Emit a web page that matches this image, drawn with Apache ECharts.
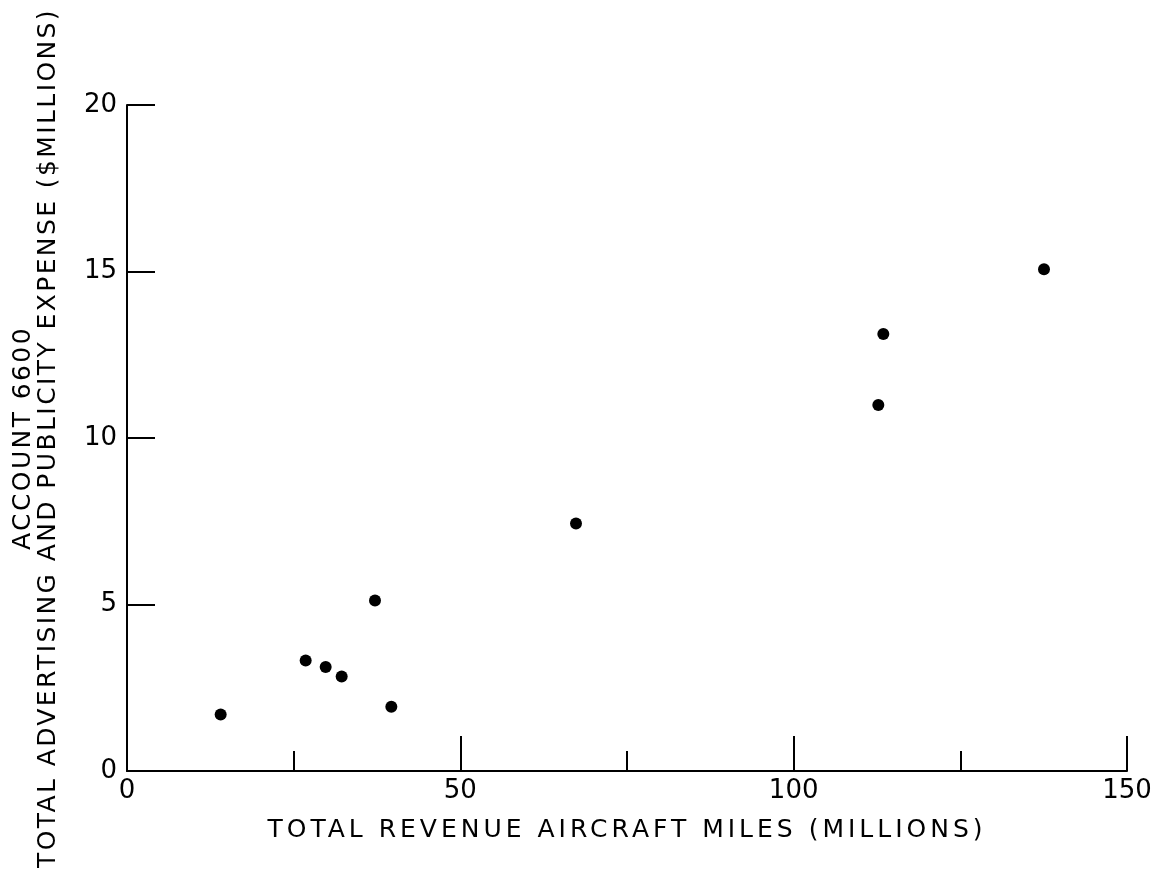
<!DOCTYPE html>
<html>
<head>
<meta charset="utf-8">
<script src="https://cdn.jsdelivr.net/npm/echarts@6/dist/echarts.min.js"></script>
<style>
html,body{margin:0;padding:0;background:#fff;}
#c{width:1159px;height:875px;}
</style>
</head>
<body>
<div id="c"></div>
<script>
// Data
var milesMillions = [14.05, 26.8, 29.8, 32.2, 37.2, 39.65, 67.35, 112.7, 113.45, 137.55];
var expenseMillions = [1.70, 3.32, 3.12, 2.84, 5.12, 1.93, 7.43, 10.99, 13.12, 15.07];
var xTitle = 'TOTAL REVENUE AIRCRAFT MILES (MILLIONS)';
var yTitleLine1 = 'ACCOUNT 6600';
var yTitleLine2 = 'TOTAL ADVERTISING AND PUBLICITY EXPENSE ($MILLIONS)';

// Widen the lettering of the axis titles (the reference uses spaced stencil lettering)
(function () {
  var proto = CanvasRenderingContext2D.prototype;
  var orig = proto.fillText;
  proto.fillText = function (t, x, y, w) {
    var f = this.font;
    var sp = /sans-serif/.test(f) ? '4px' : (/,\s*serif/.test(f) ? '2.4px' : '0px');
    if ('letterSpacing' in this) { this.letterSpacing = sp; }
    var r = w === undefined ? orig.call(this, t, x, y) : orig.call(this, t, x, y, w);
    if ('letterSpacing' in this) { this.letterSpacing = '0px'; }
    return r;
  };
})();

var font = 'DejaVu Sans';
var xTitleFont = 'DejaVu Sans, sans-serif';
var yTitleFont = 'DejaVu Sans, serif';
var chart = echarts.init(document.getElementById('c'), null, {renderer: 'canvas'});
chart.setOption({
  backgroundColor: '#ffffff',
  animation: false,
  grid: {left: 127, right: 32, top: 105, bottom: 104, containLabel: false, outerBoundsMode: 'none'},
  xAxis: {
    type: 'value', min: 0, max: 150, interval: 50,
    name: xTitle, nameLocation: 'middle', nameGap: 47,
    nameTextStyle: {fontFamily: xTitleFont, fontSize: 25, color: '#000'},
    axisLine: {show: true, onZero: false, lineStyle: {color: '#000', width: 2}},
    axisTick: {show: true, inside: true, length: 35, lineStyle: {color: '#000', width: 2}},
    minorTick: {show: true, splitNumber: 2, length: 20, lineStyle: {color: '#000', width: 2}},
    axisLabel: {fontFamily: font, fontSize: 26, color: '#000', margin: 7},
    splitLine: {show: false}
  },
  yAxis: {
    type: 'value', min: 0, max: 20, interval: 5,
    name: yTitleLine1 + '\n' + yTitleLine2, nameLocation: 'middle', nameRotate: 90, nameGap: 66,
    nameTextStyle: {fontFamily: yTitleFont, fontSize: 25, color: '#000', lineHeight: 25, align: 'center'},
    axisLine: {show: true, onZero: false, lineStyle: {color: '#000', width: 2}},
    axisTick: {show: true, inside: true, length: 28, lineStyle: {color: '#000', width: 2}},
    axisLabel: {fontFamily: font, fontSize: 26, color: '#000', margin: 10},
    splitLine: {show: false}
  },
  series: [{
    type: 'scatter',
    data: points(),
    symbol: 'circle',
    symbolSize: 12,
    itemStyle: {color: '#000', opacity: 1}
  }]
});
function points() { return milesMillions.map(function (x, i) { return [x, expenseMillions[i]]; }); }
</script>
</body>
</html>
